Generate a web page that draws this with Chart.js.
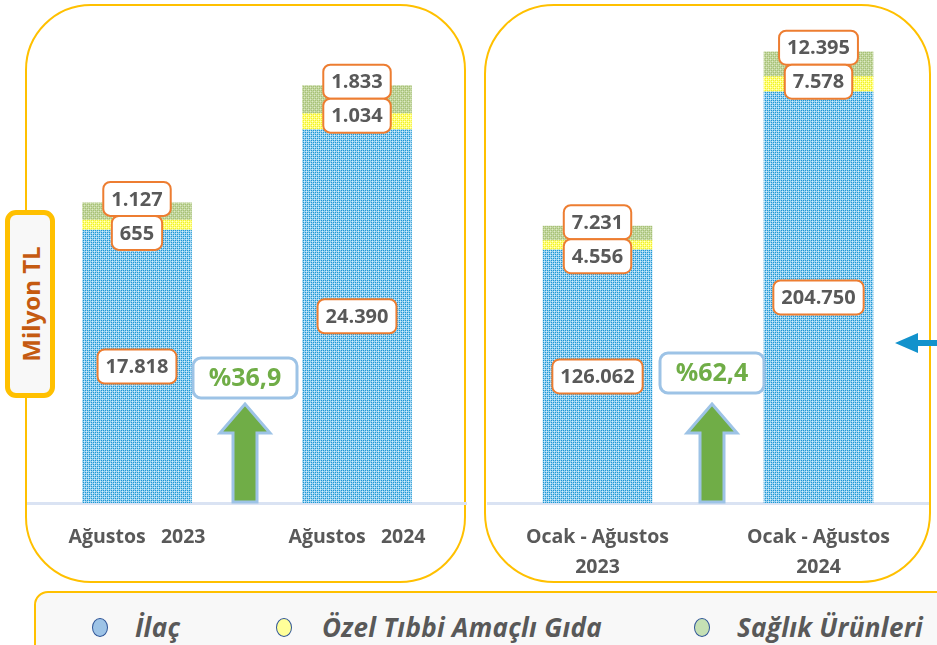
<!DOCTYPE html>
<html>
<head>
<meta charset="utf-8">
<script src="https://cdn.jsdelivr.net/npm/chart.js@4.4.1/dist/chart.umd.min.js"></script>
<style>
  html, body { margin: 0; padding: 0; width: 937px; height: 645px; overflow: hidden; background: #ffffff; font-family: "Open Sans", sans-serif; }
  .panel { position: absolute; border: 2px solid #FFC000; box-sizing: border-box; }
  canvas { position: absolute; }
  #unit { position: absolute; left: 5px; top: 210px; width: 50px; height: 188px; box-sizing: border-box; border: 5px solid #FFC000; border-radius: 11px; background: #F8F8F8; }
  #unit span { position: absolute; left: 50%; top: 50%; transform: translate(-50%, -50%) rotate(-90deg); white-space: nowrap; font: bold 24px "Open Sans", sans-serif; color: #C55A11; }
  #legend { position: absolute; left: 34px; top: 591px; width: 930px; height: 80px; box-sizing: border-box; border: 2px solid #FFC000; border-radius: 14px; background: #F8F8F8; }
  .lg-dot { position: absolute; width: 16px; height: 19px; border-radius: 50%; border: 1.5px solid #2F5597; box-sizing: border-box; }
  .lg-txt { position: absolute; font: italic bold 26px "Open Sans", sans-serif; color: #595959; white-space: nowrap; line-height: 32px; letter-spacing: 0.3px; }
</style>
</head>
<body>
<div class="panel" style="left:25px;top:4px;width:441px;height:579px;border-radius:66px;"></div>
<div class="panel" style="left:484px;top:4px;width:447px;height:579px;border-radius:70px;"></div>
<canvas id="cMonth" width="440" height="583" style="left:27px;top:0px;"></canvas>
<canvas id="cYtd" width="442" height="583" style="left:487px;top:0px;"></canvas>
<div id="unit"><span>Milyon TL</span></div>
<svg style="position:absolute;left:890px;top:330px;" width="47" height="26">
  <polygon points="5,13 28,3 28,10 47,10 47,16 28,16 28,23" fill="#1292CC"/>
</svg>
<div id="legend"></div>
<script>
// ---- data (Milyon TL) ----
const seriesNames = ['İlaç', 'Özel Tıbbi Amaçlı Gıda', 'Sağlık Ürünleri'];
const categoriesMonth = ['Ağustos   2023', 'Ağustos   2024'];
const categoriesYtd = [['Ocak - Ağustos', '2023'], ['Ocak - Ağustos', '2024']];
const ilacMonth = [17818, 24390];
const ozelMonth = [655, 1034];
const saglikMonth = [1127, 1833];
const ilacYtd = [126062, 204750];
const ozelYtd = [4556, 7578];
const saglikYtd = [7231, 12395];
const changeLabels = ['%36,9', '%62,4'];
const axisMax = [32000, 244000];

// ---- styles ----
const FONT = '"Open Sans", sans-serif';
const GRAY = '#595959';
function makePattern(base, dot, light) {
  const c = document.createElement('canvas');
  c.width = 4; c.height = 4;
  const g = c.getContext('2d');
  g.fillStyle = base; g.fillRect(0, 0, 4, 4);
  g.fillStyle = dot;
  g.fillRect(0, 0, 1, 1); g.fillRect(2, 2, 1, 1); g.fillRect(2, 0, 1, 1); g.fillRect(0, 2, 1, 1);
  g.fillStyle = light;
  g.fillRect(1, 1, 1, 1); g.fillRect(3, 3, 1, 1);
  return g.createPattern(c, 'repeat');
}
const patBlue = makePattern('#96D0F0', '#1C97D4', '#D8EEFA');
const patYellow = makePattern('#FFFF7A', '#F0EE2A', '#FFFFD0');
const patGreen = makePattern('#C2D69C', '#A5BF78', '#DDE8C6');
const legendFills = ['#9DC3E6', '#FFFF99', '#C5E0B4'];

function fmt(n) { return String(n).replace(/\B(?=(\d{3})+(?!\d))/g, '.'); }

function rr(ctx, x, y, w, h, r) {
  ctx.beginPath();
  ctx.moveTo(x + r, y);
  ctx.lineTo(x + w - r, y); ctx.arcTo(x + w, y, x + w, y + r, r);
  ctx.lineTo(x + w, y + h - r); ctx.arcTo(x + w, y + h, x + w - r, y + h, r);
  ctx.lineTo(x + r, y + h); ctx.arcTo(x, y + h, x, y + h - r, r);
  ctx.lineTo(x, y + r); ctx.arcTo(x, y, x + r, y, r);
  ctx.closePath();
}
function labelBox(ctx, text, cx, cy) {
  ctx.font = 'bold 20px ' + FONT;
  const w = ctx.measureText(text).width + 16, h = 34;
  rr(ctx, cx - w / 2, cy - h / 2, w, h, 7);
  ctx.fillStyle = '#ffffff'; ctx.fill();
  ctx.lineWidth = 2; ctx.strokeStyle = '#ED7D31'; ctx.stroke();
  ctx.fillStyle = GRAY; ctx.textAlign = 'center'; ctx.textBaseline = 'middle';
  ctx.fillText(text, cx, cy + 1);
}

const decorPlugin = {
  id: 'decor',
  afterDatasetsDraw(chart, args, opts) {
    const ctx = chart.ctx;
    const area = chart.chartArea;
    const m0 = chart.getDatasetMeta(0), m2 = chart.getDatasetMeta(2);
    ctx.save();
    // growth arrow + percentage box between the bars
    const mx = (m0.data[0].x + m0.data[1].x) / 2 + opts.dx;
    const tip = area.bottom - opts.tipUp, bot = area.bottom - 1;
    const sw = 12, hw = 25, hh = 29;
    ctx.beginPath();
    ctx.moveTo(mx, tip);
    ctx.lineTo(mx + hw, tip + hh); ctx.lineTo(mx + sw, tip + hh);
    ctx.lineTo(mx + sw, bot); ctx.lineTo(mx - sw, bot);
    ctx.lineTo(mx - sw, tip + hh); ctx.lineTo(mx - hw, tip + hh);
    ctx.closePath();
    ctx.fillStyle = '#70AD47'; ctx.fill();
    ctx.lineWidth = 3; ctx.strokeStyle = '#9DC3E6'; ctx.lineJoin = 'miter'; ctx.stroke();
    const by = area.bottom - opts.boxUp;
    rr(ctx, mx - 52, by - 20, 104, 40, 8);
    ctx.fillStyle = '#ffffff'; ctx.fill();
    ctx.lineWidth = 3; ctx.strokeStyle = '#9DC3E6'; ctx.stroke();
    ctx.font = 'bold 25px ' + FONT; ctx.fillStyle = '#70AD47';
    ctx.textAlign = 'center'; ctx.textBaseline = 'middle';
    ctx.fillText(opts.change, mx, by + 1);
    // value labels
    for (let j = 0; j < m0.data.length; j++) {
      const b = m0.data[j], g = m2.data[j];
      const x = b.x;
      const gy = g.y - 4;
      labelBox(ctx, fmt(chart.data.datasets[0].data[j]), x, (b.y + b.base) / 2);
      labelBox(ctx, fmt(chart.data.datasets[2].data[j]), x, gy);
      labelBox(ctx, fmt(chart.data.datasets[1].data[j]), x, gy + 34);
    }
    ctx.restore();
  }
};

function makeChart(id, labels, a, b, c, max, change, dx, boxUp) {
  return new Chart(document.getElementById(id), {
    type: 'bar',
    data: {
      labels: labels,
      datasets: [
        { label: seriesNames[0], data: a, backgroundColor: patBlue },
        { label: seriesNames[1], data: b, backgroundColor: patYellow },
        { label: seriesNames[2], data: c, backgroundColor: patGreen }
      ]
    },
    options: {
      responsive: false,
      animation: false,
      devicePixelRatio: 1,
      layout: { padding: { top: 13, left: 0, right: 0, bottom: 0 } },
      datasets: { bar: { barThickness: 109, borderWidth: 0 } },
      plugins: {
        legend: { display: false },
        tooltip: { enabled: false },
        decor: { change: change, dx: dx, tipUp: 99, boxUp: boxUp }
      },
      scales: {
        x: {
          stacked: true,
          offset: true,
          grid: { display: false },
          border: { display: true, color: '#DAE3F3', width: 3 },
          ticks: { color: GRAY, font: { family: FONT, weight: 'bold', size: 19.5, lineHeight: 1.55 }, padding: 11, maxRotation: 0, autoSkip: false },
          afterFit: s => { s.height = 80; }
        },
        y: { stacked: true, display: false, min: 0, max: max }
      }
    },
    plugins: [decorPlugin]
  });
}

makeChart('cMonth', categoriesMonth, ilacMonth, ozelMonth, saglikMonth, axisMax[0], changeLabels[0], -2, 125);
makeChart('cYtd', categoriesYtd, ilacYtd, ozelYtd, saglikYtd, axisMax[1], changeLabels[1], 4, 130);

// shared legend
const lg = document.getElementById('legend');
const dotX = [64, 248, 666], txtX = [99, 286, 701];
seriesNames.forEach((n, i) => {
  const d = document.createElement('div');
  d.className = 'lg-dot';
  d.style.left = (dotX[i] - 8) + 'px'; d.style.top = (36 - 9.5 - 2) + 'px';
  d.style.background = legendFills[i];
  lg.appendChild(d);
  const t = document.createElement('div');
  t.className = 'lg-txt';
  t.style.left = txtX[i] + 'px'; t.style.top = (36 - 16 - 2) + 'px';
  t.textContent = n;
  lg.appendChild(t);
});
</script>
</body>
</html>
